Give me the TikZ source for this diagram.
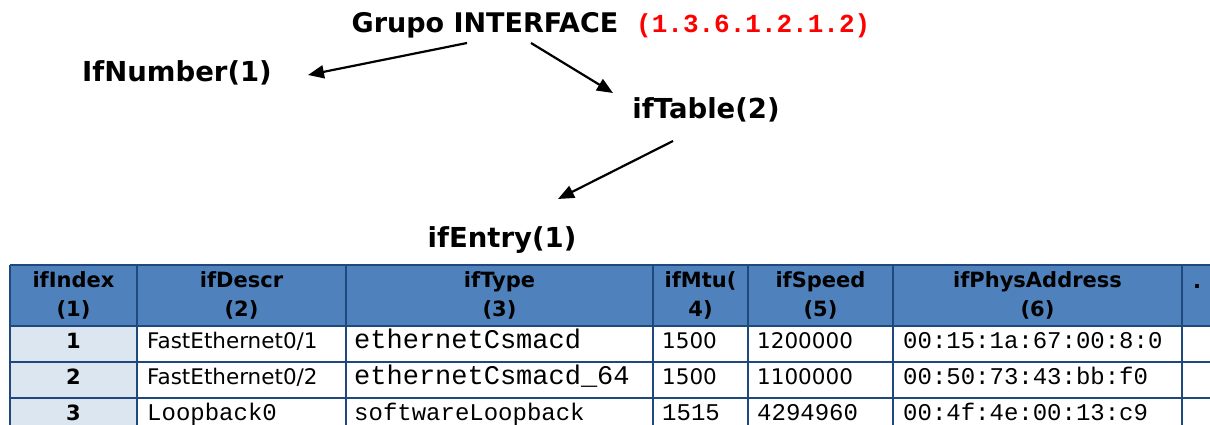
\documentclass[tikz,border=0pt]{standalone}
\usepackage{fontspec}
\setmainfont{DejaVu Sans}
\newfontfamily\cour{Liberation Mono}
\usetikzlibrary{arrows.meta,calc}

\definecolor{hdrblue}{RGB}{79,129,189}
\definecolor{idxblue}{RGB}{220,230,241}
\definecolor{gridblue}{RGB}{31,73,125}
\definecolor{oidred}{RGB}{255,0,0}

\tikzset{
  lbl/.style={font=\fontsize{27.5}{30}\selectfont\bfseries, inner sep=0pt, anchor=base},
  arr/.style={-{Triangle[length=16pt,width=13pt]}, line width=2.2pt},
  grid/.style={draw=gridblue, line width=2.5pt},
  hdr/.style={font=\fontsize{21}{29}\selectfont\bfseries, align=center, inner sep=0pt},
  idx/.style={font=\fontsize{21}{24}\selectfont\bfseries, inner sep=0pt, anchor=base},
  txt/.style={font=\fontsize{21.5}{24}\selectfont, inner sep=0pt, anchor=base west},
  mono/.style={font=\fontsize{24}{28}\selectfont\cour, inner sep=0pt, anchor=base west},
  bigmono/.style={font=\fontsize{27}{30}\selectfont\cour, inner sep=0pt, anchor=base west},
}

\begin{document}
\begin{tikzpicture}[x=1pt,y=-1pt]
\useasboundingbox (0,0) rectangle (1210,425);

% tree of the group
\node[lbl, font=\fontsize{27}{30}\selectfont\bfseries] (grupo) at (485,33) {Grupo INTERFACE};
\node[lbl, anchor=base west, text=oidred, font=\fontsize{26}{30}\selectfont\cour\bfseries] (oid) at (636,33) {(1.3.6.1.2.1.2)};
\node[lbl] (ifnumber) at (177,82) {IfNumber(1)};
\node[lbl] (iftable) at (706,119) {ifTable(2)};
\node[lbl] (ifentry) at (502,247) {ifEntry(1)};

\draw[arr] ($(grupo.base)+(-18,10)$) -- ($(ifnumber.base)+(131,-7)$);
\draw[arr] ($(grupo.base)+(46,10)$) -- ($(iftable.base)+(-93,-26)$);
\draw[arr] ($(iftable.base)+(-33,22)$) -- ($(ifentry.base)+(56,-48)$);

% table
\fill[hdrblue] (10,265) rectangle (1210,326);
\fill[idxblue] (10,326) rectangle (137,425);
\foreach \y in {265,326,362,398}
  \draw[grid] (10,\y) -- (1210,\y);
\foreach \x in {10,137,346,653,748,893,1182}
  \draw[grid] (\x,265) -- (\x,425);

\node[hdr] (h1) at (73.5,295.5) {ifIndex\\(1)};
\node[hdr] (h2) at (241.5,295.5) {ifDescr\\(2)};
\node[hdr] (h3) at (499.5,295.5) {ifType\\(3)};
\node[hdr] (h4) at (700.5,295.5) {ifMtu(\\4)};
\node[hdr] (h5) at (820.5,295.5) {ifSpeed\\(5)};
\node[hdr] (h6) at (1037.5,295.5) {ifPhysAddress\\(6)};
\node[idx] (h7) at (1197,288) {.};

\node[idx] (r1c1) at (73.5,348) {1};
\node[txt] (r1c2) at (147,348) {FastEthernet0/1};
\node[bigmono] (r1c3) at (354,348) {ethernetCsmacd};
\node[txt] (r1c4) at (662,348) {1500};
\node[txt] (r1c5) at (757,348) {1200000};
\node[mono] (r1c6) at (903,348) {00:15:1a:67:00:8:0};

\node[idx] (r2c1) at (73.5,384) {2};
\node[txt] (r2c2) at (147,384) {FastEthernet0/2};
\node[bigmono] (r2c3) at (354,384) {ethernetCsmacd\_64};
\node[txt] (r2c4) at (662,384) {1500};
\node[txt] (r2c5) at (757,384) {1100000};
\node[mono] (r2c6) at (903,384) {00:50:73:43:bb:f0};

\node[idx] (r3c1) at (73.5,420) {3};
\node[mono] (r3c2) at (147,420) {Loopback0};
\node[mono] (r3c3) at (354,420) {softwareLoopback};
\node[mono] (r3c4) at (662,420) {1515};
\node[mono] (r3c5) at (757,420) {4294960};
\node[mono] (r3c6) at (903,420) {00:4f:4e:00:13:c9};

\end{tikzpicture}
\end{document}
